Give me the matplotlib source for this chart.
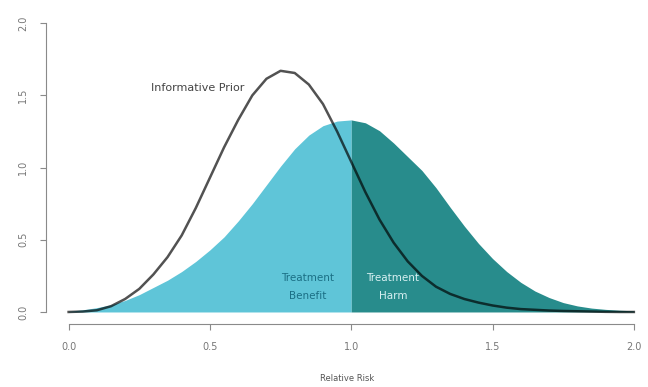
import matplotlib.pyplot as plt

# relative risk grid and densities
rr = [0.0, 0.05, 0.1, 0.15, 0.2, 0.25, 0.3, 0.35, 0.4, 0.45, 0.5, 0.55, 0.6, 0.65,
      0.7, 0.75, 0.8, 0.85, 0.9, 0.95, 1.0, 1.05, 1.1, 1.15, 1.2, 1.25, 1.3, 1.35,
      1.4, 1.45, 1.5, 1.55, 1.6, 1.65, 1.7, 1.75, 1.8, 1.85, 1.9, 1.95, 2.0]
prior = [0.0, 0.003, 0.012, 0.04, 0.09, 0.16, 0.26, 0.38, 0.53, 0.72, 0.93, 1.14, 1.33, 1.50,
         1.615, 1.67, 1.655, 1.575, 1.44, 1.25, 1.04, 0.83, 0.64, 0.48, 0.35, 0.25, 0.175, 0.125,
         0.09, 0.065, 0.045, 0.03, 0.02, 0.015, 0.01, 0.007, 0.005, 0.003, 0.001, 0.0, 0.0]
posterior = [0.005, 0.015, 0.03, 0.05, 0.08, 0.12, 0.17, 0.22, 0.28, 0.35, 0.43, 0.52, 0.63, 0.75,
             0.88, 1.01, 1.13, 1.225, 1.29, 1.322, 1.33, 1.31, 1.255, 1.17, 1.075, 0.98, 0.86, 0.725,
             0.595, 0.475, 0.37, 0.28, 0.205, 0.145, 0.10, 0.065, 0.042, 0.027, 0.018, 0.012, 0.008]

xticks = [0.0, 0.5, 1.0, 1.5, 2.0]
yticks = [0.0, 0.5, 1.0, 1.5, 2.0]

fig = plt.figure(figsize=(6.48, 3.87), dpi=100)
ax = fig.add_axes([0.071, 0.164, 0.929, 0.806])

benefit = [x <= 1.0 for x in rr]
harm = [x >= 1.0 for x in rr]
ax.fill_between(rr, posterior, 0, where=benefit, color='#5fc5d8', lw=0)
ax.fill_between(rr, posterior, 0, where=harm, color='#288c8c', lw=0)
ax.plot(rr, prior, color='black', alpha=0.68, lw=1.8, solid_joinstyle='round')

ax.text(0.455, 1.55, 'Informative Prior', ha='center', va='center', fontsize=8, color='#444444')
ax.text(0.846, 0.17, 'Treatment\nBenefit', ha='center', va='center', fontsize=7.5,
        color='#1b6f85', linespacing=2.0)
ax.text(1.147, 0.17, 'Treatment\nHarm', ha='center', va='center', fontsize=7.5,
        color='#d8f0f2', linespacing=2.0)

ax.set_xlim(-0.08, 2.05)
ax.set_ylim(-0.08, 2.08)
for s in ['top', 'right']:
    ax.spines[s].set_visible(False)
ax.spines['left'].set_bounds(0, 2)
ax.spines['bottom'].set_bounds(0, 2)
for s in ['left', 'bottom']:
    ax.spines[s].set_color('#8a8a8a')
ax.set_xticks(xticks)
ax.set_yticks(yticks)
ax.set_xticklabels(['%.1f' % t for t in xticks])
ax.set_yticklabels(['%.1f' % t for t in yticks], rotation=90, va='center')
ax.tick_params(colors='#8a8a8a', labelcolor='#777777', labelsize=7, length=4, pad=9)
ax.set_xlabel('Relative Risk', fontsize=6, color='#555555', labelpad=16)

fig.savefig('out.png', dpi=100)
